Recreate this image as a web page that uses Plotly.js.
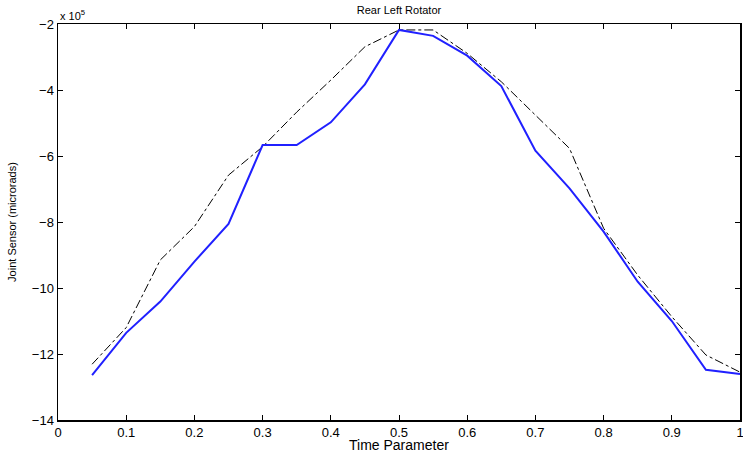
<!DOCTYPE html>
<html>
<head>
<meta charset="utf-8">
<script src="https://cdn.plot.ly/plotly-3.0.1.min.js"></script>
<style>html,body{margin:0;padding:0;background:#fff;}#chart{width:743px;height:453px;}</style>
</head>
<body>
<div id="chart"></div>
<script>
// Time parameter
const timeParam = [0.05,0.10,0.15,0.20,0.25,0.30,0.35,0.40,0.45,0.50,0.55,0.60,0.65,0.70,0.75,0.80,0.85,0.90,0.95,1.00];
// Measured joint sensor (solid blue), microrads
const measured = [-1264000,-1136000,-1041000,-920000,-806000,-567000,-567000,-498000,-383000,-218000,-236000,-296000,-388000,-584000,-698000,-829000,-981000,-1100000,-1248000,-1261000];
// Reference / model (dash-dot black), microrads
const reference = [-1231000,-1120000,-915000,-814000,-658000,-572000,-467000,-370000,-269000,-218000,-218000,-289000,-375000,-476000,-577000,-819000,-961000,-1087000,-1203000,-1255000];
// Axis ticks
const xTickVals = [0,0.1,0.2,0.3,0.4,0.5,0.6,0.7,0.8,0.9,1];
const xTickText = ["0","0.1","0.2","0.3","0.4","0.5","0.6","0.7","0.8","0.9","1"];
const yTickVals = [-200000,-400000,-600000,-800000,-1000000,-1200000,-1400000];
const yTickText = ["\u22122","\u22124","\u22126","\u22128","\u221210","\u221212","\u221214"];

const font = "Liberation Sans, Arial, Helvetica, sans-serif";

const traces = [
  {x: timeParam, y: reference, type:'scatter', mode:'lines',
   line:{color:'#000000', width:1, dash:'dashdot'}, showlegend:false, hoverinfo:'skip'},
  {x: timeParam, y: measured, type:'scatter', mode:'lines',
   line:{color:'#2020ff', width:2}, showlegend:false, hoverinfo:'skip'}
];

const axisCommon = {
  showgrid:false, zeroline:false, showline:true, linecolor:'#000', linewidth:1.5,
  mirror:'ticks', ticks:'inside', ticklen:5, tickwidth:1, tickcolor:'#000',
  ticklabeloverflow:'allow',
  tickfont:{family:font, size:13, color:'#000'}
};

const layout = {
  width:743, height:453,
  margin:{l:58, r:3, t:24, b:33},
  paper_bgcolor:'#fff', plot_bgcolor:'#fff',
  title:{text:'Rear Left Rotator', font:{family:font, size:11, color:'#000'}, x:0.5, xref:'paper', y:0.985, yanchor:'top'},
  xaxis: Object.assign({}, axisCommon, {
    range:[0,1], tickmode:'array', tickvals:xTickVals, ticktext:xTickText
  }),
  yaxis: Object.assign({}, axisCommon, {
    range:[-1400000,-200000], tickmode:'array', tickvals:yTickVals, ticktext:yTickText,
    title:{text:'Joint Sensor (microrads)', font:{family:font, size:11, color:'#000'}, standoff:13}
  }),
  annotations:[
    {text:'x 10<sup>5</sup>', xref:'paper', yref:'paper', x:0, y:1, xanchor:'left', yanchor:'bottom',
     showarrow:false, font:{family:font, size:11, color:'#000'}},
    {text:'Time Parameter', xref:'paper', yref:'paper', x:0.5, y:0, xanchor:'center', yanchor:'middle',
     yshift:-25, showarrow:false, font:{family:font, size:14, color:'#000'}}
  ]
};

Plotly.newPlot('chart', traces, layout, {staticPlot:true, displayModeBar:false});
</script>
</body>
</html>
